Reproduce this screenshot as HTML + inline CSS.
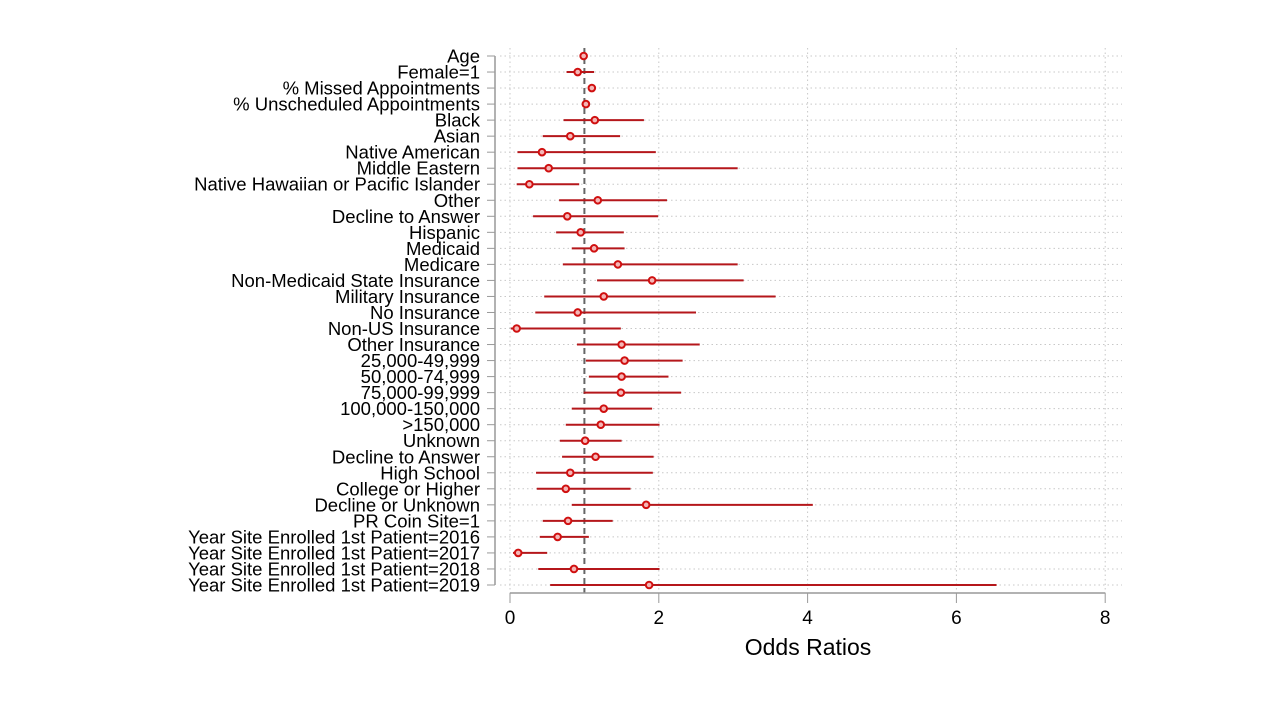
<!DOCTYPE html>
<html><head><meta charset="utf-8"><style>
html,body{margin:0;padding:0;background:#fff;}
svg{display:block;font-family:"Liberation Sans",Arial,sans-serif;}
</style></head><body>
<svg id="chart" width="1280" height="720" viewBox="0 0 1280 720"></svg>
<script>
const categories=["Age","Female=1","% Missed Appointments","% Unscheduled Appointments","Black","Asian","Native American","Middle Eastern","Native Hawaiian or Pacific Islander","Other","Decline to Answer","Hispanic","Medicaid","Medicare","Non-Medicaid State Insurance","Military Insurance","No Insurance","Non-US Insurance","Other Insurance","25,000-49,999","50,000-74,999","75,000-99,999","100,000-150,000",">150,000","Unknown","Decline to Answer","High School","College or Higher","Decline or Unknown","PR Coin Site=1","Year Site Enrolled 1st Patient=2016","Year Site Enrolled 1st Patient=2017","Year Site Enrolled 1st Patient=2018","Year Site Enrolled 1st Patient=2019"];
const oddsRatio=[0.99,0.91,1.10,1.02,1.14,0.81,0.43,0.52,0.26,1.18,0.77,0.95,1.13,1.45,1.91,1.26,0.91,0.09,1.50,1.54,1.50,1.49,1.26,1.22,1.01,1.15,0.81,0.75,1.83,0.78,0.64,0.11,0.86,1.87];
const ciLow=[0.98,0.76,1.09,1.01,0.72,0.44,0.10,0.10,0.09,0.66,0.31,0.62,0.83,0.71,1.17,0.46,0.34,0.01,0.90,1.02,1.06,0.99,0.83,0.75,0.67,0.70,0.35,0.36,0.83,0.44,0.40,0.04,0.38,0.54];
const ciHigh=[1.00,1.13,1.11,1.03,1.80,1.48,1.96,3.06,0.93,2.11,1.99,1.53,1.54,3.06,3.14,3.57,2.50,1.49,2.55,2.32,2.13,2.30,1.91,2.01,1.50,1.93,1.92,1.62,4.07,1.38,1.06,0.50,2.01,6.54];
const xTicks=[0,2,4,6,8];
const refValue=1;

const svg=document.getElementById('chart');
const NS='http://www.w3.org/2000/svg';
const x=v=>510+v*74.4;
const y=i=>56+i*16.03;
function mk(tag,attrs,parent){const e=document.createElementNS(NS,tag);for(const k in attrs)e.setAttribute(k,attrs[k]);(parent||svg).appendChild(e);return e;}

xTicks.forEach(t=>{
  const g=mk('line',{x1:x(t),x2:x(t),y1:48,y2:593,stroke:'#c8c8c8','stroke-width':1,'stroke-dasharray':'1.5,3'});
  
  
});
categories.forEach((c,i)=>{
  const g=mk('line',{x1:500,x2:1122,y1:y(i),y2:y(i),stroke:'#c8c8c8','stroke-width':1,'stroke-dasharray':'1.5,3'});
  
  
});
const ref=mk('line',{x1:x(refValue),x2:x(refValue),y1:48,y2:593,stroke:'#666','stroke-width':2,'stroke-dasharray':'6,4'});



const ya=mk('line',{x1:495,x2:495,y1:y(0),y2:y(categories.length-1),stroke:'#999','stroke-width':1.5});


categories.forEach((c,i)=>{
  const tk=mk('line',{x1:487,x2:495,y1:y(i),y2:y(i),stroke:'#999','stroke-width':1});
  
  
  const t=mk('text',{x:480,y:y(i)+6.5,'text-anchor':'end','font-size':18.5,fill:'#000'});
  t.textContent=c;
  
  
});
const xa=mk('line',{x1:x(0),x2:x(8),y1:593,y2:593,stroke:'#999','stroke-width':1.5});


xTicks.forEach(t=>{
  const tk=mk('line',{x1:x(t),x2:x(t),y1:593,y2:603,stroke:'#999','stroke-width':1});
  
  
  const l=mk('text',{x:x(t),y:624,'text-anchor':'middle','font-size':19,fill:'#000'});
  l.textContent=String(t);
  
  
});
const title=mk('text',{x:808,y:655,'text-anchor':'middle','font-size':23,fill:'#000'});
title.textContent='Odds Ratios';



categories.forEach((c,i)=>{
  const ci=mk('line',{x1:x(ciLow[i]),x2:x(ciHigh[i]),y1:y(i),y2:y(i),stroke:'#b5171b','stroke-width':2});
  
  
  const p=mk('circle',{cx:x(oddsRatio[i]),cy:y(i),r:3.3,fill:'#f4b7b7',stroke:'#d01010','stroke-width':2});
  
  
});
</script>
</body></html>
